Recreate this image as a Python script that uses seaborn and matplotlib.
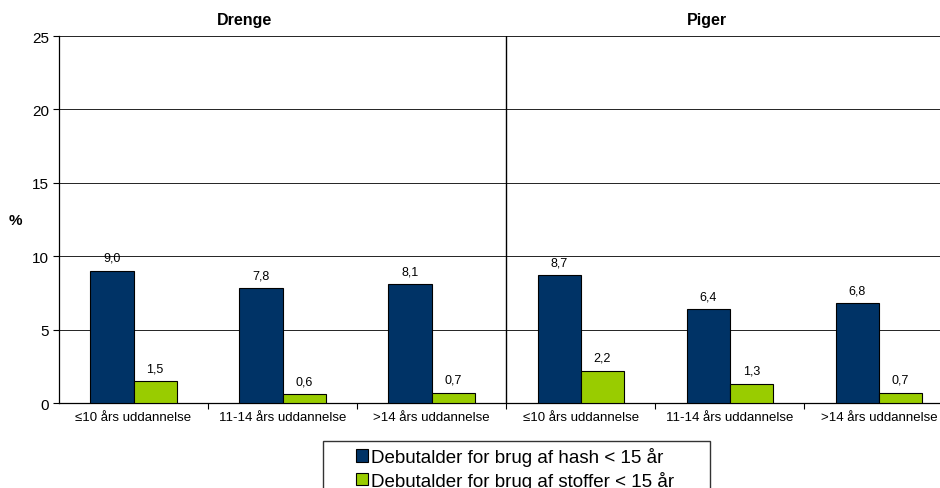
import pandas as pd
import matplotlib.pyplot as plt
import seaborn as sns
from matplotlib.patches import Rectangle

# ------------------ Data ------------------
groups = ["Drenge", "Piger"]
education = ["≤10 års uddannelse", "11-14 års uddannelse", ">14 års uddannelse"]
series = ["Debutalder for brug af hash < 15 år", "Debutalder for brug af stoffer < 15 år"]
hash_values = [9.0, 7.8, 8.1, 8.7, 6.4, 6.8]
stoffer_values = [1.5, 0.6, 0.7, 2.2, 1.3, 0.7]
colors = ["#003366", "#99CC00"]

keys = [f"{g}|{e}" for g in groups for e in education]
data = pd.DataFrame({
    "key": keys * 2,
    "value": hash_values + stoffer_values,
    "serie": [series[0]] * len(keys) + [series[1]] * len(keys),
})

sns.set_style("white")
plt.rcParams["font.family"] = ["Liberation Sans", "DejaVu Sans"]
plt.rcParams["text.color"] = "black"
plt.rcParams["axes.labelcolor"] = "black"
plt.rcParams["xtick.color"] = "black"
plt.rcParams["ytick.color"] = "black"

fig = plt.figure(figsize=(9.4, 4.89), dpi=100)
ax = fig.add_axes([59 / 940, 1 - 404 / 489, 1 - 59 / 940, (404 - 37) / 489])

sns.barplot(data=data, x="key", y="value", hue="serie", order=keys, hue_order=series,
            palette=colors, saturation=1, width=0.58, edgecolor="black", linewidth=0.8,
            legend=False, ax=ax, zorder=3)

for cont in ax.containers:
    labels = [f"{b.get_height():.1f}".replace(".", ",") for b in cont]
    ax.bar_label(cont, labels=labels, padding=5, fontsize=9)

ax.set_ylim(0, 25)
ax.set_xlim(-0.5, 5.41)
ax.set_yticks([0, 5, 10, 15, 20, 25])
ax.yaxis.grid(True, color="black", linewidth=0.6, zorder=0)
ax.set_axisbelow(True)
ax.tick_params(axis="y", labelsize=11, length=4, direction="out", left=True, pad=3)

# category labels at centers, tick marks at boundaries
ax.set_xticks([0.5, 1.5, 2.5, 3.5, 4.5])
ax.set_xticklabels([])
ax.tick_params(axis="x", length=4, direction="out", bottom=True)
ax.set_xticks(range(len(keys)), minor=True)
ax.set_xticklabels(education * 2, minor=True, fontsize=9.5)
ax.tick_params(axis="x", which="minor", length=0, pad=6)

for side in ["top", "right"]:
    ax.spines[side].set_visible(False)
for side in ["left", "bottom"]:
    ax.spines[side].set_color("black")
    ax.spines[side].set_linewidth(0.9)

ax.axvline(2.5, color="black", linewidth=1.0, zorder=4)
ax.set_xlabel("")
ax.set_ylabel("%", fontsize=11, fontweight="bold", rotation=0, labelpad=12, va="center")

fig.text(244 / 940, 1 - 20 / 489, "Drenge", fontsize=11.5, fontweight="bold", ha="center", va="center")
fig.text(707 / 940, 1 - 20 / 489, "Piger", fontsize=11.5, fontweight="bold", ha="center", va="center")

# legend box
fig.patches.append(Rectangle((323 / 940, -0.05), (710 - 323) / 940, 0.05 + 1 - 442 / 489,
                             transform=fig.transFigure, facecolor="white",
                             edgecolor="#333333", linewidth=1.0))
handles = [Rectangle((0, 0), 1, 1, facecolor=c, edgecolor="black", linewidth=0.8) for c in colors]
fig.legend(handles, series, loc="upper left", bbox_to_anchor=(356 / 940, 1 - 448 / 489),
           frameon=False, fontsize=13.5, handlelength=0.65, handleheight=0.65,
           handletextpad=0.15, labelspacing=0.25, borderpad=0, borderaxespad=0)

fig.savefig("out.png", dpi=100)
